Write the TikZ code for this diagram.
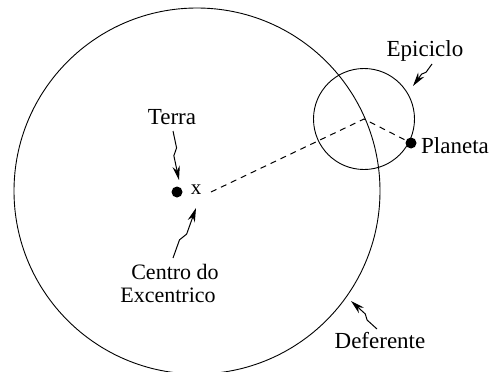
\documentclass[tikz,border=0pt]{standalone}
\usepackage{fontspec}
\setmainfont{Liberation Serif}
\usetikzlibrary{arrows.meta,calc}
\tikzset{
  orbit/.style={draw=black, line width=0.9pt},
  lbl/.style={inner sep=0pt, font=\fontsize{23}{26}\selectfont},
  bolt/.style={line width=1pt, -{Stealth[length=14pt,width=7.5pt]}},
  body/.style={circle, fill=black, inner sep=0pt, minimum size=11pt},
  guide/.style={line width=1pt, dash pattern=on 6pt off 5pt}
}
\newcommand{\boltpath}[2]{\draw[bolt] (#1) -- ($(#1)!0.35!5:(#2)$) -- ($(#1)!0.5!-5:(#2)$) -- (#2);}
\begin{document}
\begin{tikzpicture}[x=1pt,y=-1pt]
\useasboundingbox (0,0) rectangle (493,372);
% deferent and epicycle
\coordinate (ecc) at (197,191);
\coordinate (epc) at (364,119);
\draw[orbit] (ecc) circle[radius=183];
\draw[orbit] (epc) circle[radius=50.5];
% bodies
\node[body] (earth) at (177,192) {};
\node[body] (planet) at (411,143) {};
\node[lbl, font=\fontsize{21}{24}\selectfont] (xmark) at (196,190) {x};
% dashed guide
\coordinate (gstart) at (211,192);
\draw[guide] (gstart) -- (epc) -- (planet);
% labels
\node[lbl] (terra) at (172,117) {Terra};
\node[lbl] (epiciclo) at (425,51) {Epiciclo};
\node[lbl, anchor=west] (planeta) at (421,146) {Planeta};
\node[lbl, align=center, font=\fontsize{22}{23}\selectfont] (centro) at (168,283) {\hspace*{14pt}Centro do\\Excentrico};
\node[lbl] (deferente) at (380,341) {Deferente};
% arrows
\coordinate (t1) at (173,131);
\coordinate (t2) at (179,180);
\coordinate (e1) at (432,64);
\coordinate (e2) at (413,86);
\coordinate (c1) at (173,258);
\coordinate (c2) at (196,208);
\coordinate (d1) at (377,329);
\coordinate (d2) at (351,301);
\boltpath{t1}{t2}
\boltpath{e1}{e2}
\boltpath{c1}{c2}
\boltpath{d1}{d2}
\end{tikzpicture}
\end{document}
